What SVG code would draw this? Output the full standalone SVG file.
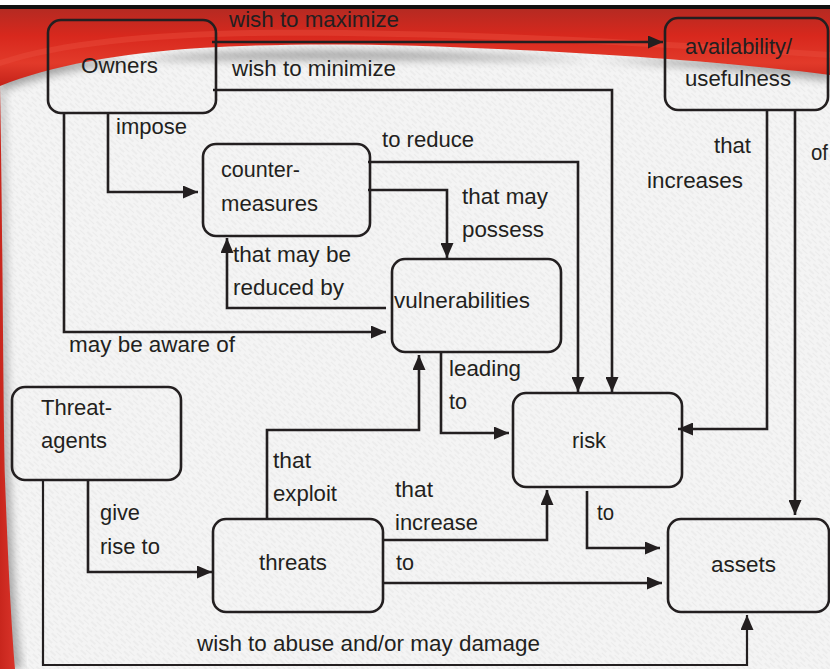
<svg xmlns="http://www.w3.org/2000/svg" width="830" height="669" viewBox="0 0 830 669">
<defs>
  <pattern id="tex" width="11" height="7" patternUnits="userSpaceOnUse" patternTransform="rotate(42)">
    <rect width="11" height="7" fill="#f4f4f4"/>
    <line x1="0" y1="2" x2="7" y2="2" stroke="#dadada" stroke-width="0.6"/>
    <line x1="4" y1="5.5" x2="11" y2="5.5" stroke="#e3e3e3" stroke-width="0.5"/>
  </pattern>
  <linearGradient id="red" x1="0" y1="0" x2="0" y2="1">
    <stop offset="0" stop-color="#b52a22"/>
    <stop offset="0.35" stop-color="#d8281d"/>
    <stop offset="0.7" stop-color="#e23a2a"/>
    <stop offset="1" stop-color="#c42219"/>
  </linearGradient>
  <linearGradient id="redL" x1="0" y1="0" x2="1" y2="0">
    <stop offset="0" stop-color="#c8261d"/>
    <stop offset="1" stop-color="#d9342a"/>
  </linearGradient>
  <filter id="blur" x="-20%" y="-50%" width="140%" height="200%">
    <feGaussianBlur stdDeviation="4"/>
  </filter>
  <marker id="arr" markerUnits="userSpaceOnUse" markerWidth="15" markerHeight="13" refX="15" refY="6.5" orient="auto">
    <path d="M0,0 L15,6.5 L0,13 Z" fill="#231f20"/>
  </marker>
  <style>
    .box { fill: none; stroke: #231f20; stroke-width: 2.6; }
    .ln { fill: none; stroke: #231f20; stroke-width: 2.6; }
    .thin { stroke-width: 2.2; }
    text { font-family: "Liberation Sans", Arial, sans-serif; font-size: 22px; fill: #231f20; }
  </style>
</defs>

<!-- background -->
<rect x="0" y="0" width="830" height="669" fill="url(#tex)"/>
<!-- shadows -->
<path d="M0,92 C50,72 120,59 200,54 C300,48 400,50 520,56 C650,62 760,72 830,81 L830,60 L0,60 Z" fill="#6f6f6f" opacity="0.6" filter="url(#blur)"/>
<path d="M4,90 C7,250 7,400 10,480 C13,560 16,620 22,669 L0,669 L0,90 Z" fill="#6a6a6a" opacity="0.55" filter="url(#blur)"/>
<!-- red band -->
<path d="M0,9 H830 V75 C760,66 650,56 520,50 C400,44 300,42 200,48 C120,53 50,66 0,86 Z" fill="url(#red)"/>
<path d="M0,60 C60,40 150,32 250,30 C400,28 600,36 830,52 L830,58 C600,42 400,34 250,36 C150,38 60,46 0,66 Z" fill="#e8493a" opacity="0.5"/>
<path d="M0,84 C3,250 3,400 5,480 C8,560 11,620 15,669 L0,669 Z" fill="url(#redL)"/>
<!-- top border -->
<rect x="0" y="0" width="830" height="5" fill="#ffffff"/>
<rect x="0" y="5" width="830" height="4" fill="#111111"/>

<!-- connectors -->
<g id="connectors">
  <path class="ln" d="M212,42 H663" marker-end="url(#arr)"/>
  <path class="ln" d="M213,90 H612 V392" marker-end="url(#arr)"/>
  <path class="ln" d="M368,162 H578 V392" marker-end="url(#arr)"/>
  <path class="ln" d="M368,190 H447 V258" marker-end="url(#arr)"/>
  <path class="ln" d="M386,308 H227 V238" marker-end="url(#arr)"/>
  <path class="ln" d="M64,113 V332 H386" marker-end="url(#arr)"/>
  <path class="ln" d="M108,113 V192 H198" marker-end="url(#arr)"/>
  <path class="ln" d="M767,111 V429 H678" marker-end="url(#arr)"/>
  <path class="ln" d="M795,111 V515" marker-end="url(#arr)"/>
  <path class="ln" d="M441,352 V433 H509" marker-end="url(#arr)"/>
  <path class="ln" d="M267,519 V430 H419 V355" marker-end="url(#arr)"/>
  <path class="ln" d="M383,540 H547 V490" marker-end="url(#arr)"/>
  <path class="ln" d="M383,583 H662" marker-end="url(#arr)"/>
  <path class="ln" d="M587,491 V548 H660" marker-end="url(#arr)"/>
  <path class="ln" d="M88,480 V572 H212" marker-end="url(#arr)"/>
  <path class="ln thin" d="M43,480 V665 H747 V615" marker-end="url(#arr)"/>

  <text x="229" y="27" textLength="170" lengthAdjust="spacingAndGlyphs">wish to maximize</text>
  <text x="232" y="76" textLength="164" lengthAdjust="spacingAndGlyphs">wish to minimize</text>
  <text x="116" y="134" textLength="71" lengthAdjust="spacingAndGlyphs">impose</text>
  <text x="382" y="147" textLength="92" lengthAdjust="spacingAndGlyphs">to reduce</text>
  <text x="462" y="204" textLength="86" lengthAdjust="spacingAndGlyphs">that may</text>
  <text x="462" y="237" textLength="82" lengthAdjust="spacingAndGlyphs">possess</text>
  <text x="714" y="153" textLength="37" lengthAdjust="spacingAndGlyphs">that</text>
  <text x="647" y="188" textLength="96" lengthAdjust="spacingAndGlyphs">increases</text>
  <text x="811" y="160" textLength="17" lengthAdjust="spacingAndGlyphs">of</text>
  <text x="233" y="262" textLength="118" lengthAdjust="spacingAndGlyphs">that may be</text>
  <text x="233" y="295" textLength="111" lengthAdjust="spacingAndGlyphs">reduced by</text>
  <text x="69" y="352" textLength="166" lengthAdjust="spacingAndGlyphs">may be aware of</text>
  <text x="449" y="376" textLength="72" lengthAdjust="spacingAndGlyphs">leading</text>
  <text x="449" y="409" textLength="18" lengthAdjust="spacingAndGlyphs">to</text>
  <text x="273" y="468" textLength="38" lengthAdjust="spacingAndGlyphs">that</text>
  <text x="273" y="501" textLength="64" lengthAdjust="spacingAndGlyphs">exploit</text>
  <text x="395" y="497" textLength="38" lengthAdjust="spacingAndGlyphs">that</text>
  <text x="395" y="530" textLength="83" lengthAdjust="spacingAndGlyphs">increase</text>
  <text x="100" y="520" textLength="40" lengthAdjust="spacingAndGlyphs">give</text>
  <text x="100" y="554" textLength="60" lengthAdjust="spacingAndGlyphs">rise to</text>
  <text x="597" y="520" textLength="17" lengthAdjust="spacingAndGlyphs">to</text>
  <text x="396" y="570" textLength="18" lengthAdjust="spacingAndGlyphs">to</text>
  <text x="197" y="651" textLength="343" lengthAdjust="spacingAndGlyphs">wish to abuse and/or may damage</text>
</g>

<!-- nodes -->
<g id="owners">
  <rect class="box" x="48" y="20" width="168" height="93" rx="13"/>
  <text x="81" y="73" textLength="77" lengthAdjust="spacingAndGlyphs">Owners</text>
</g>
<g id="availability">
  <rect class="box" x="665" y="18" width="163" height="92" rx="13"/>
  <text x="685" y="54" textLength="107" lengthAdjust="spacingAndGlyphs">availability/</text>
  <text x="685" y="86" textLength="106" lengthAdjust="spacingAndGlyphs">usefulness</text>
</g>
<g id="countermeasures">
  <rect class="box" x="203" y="144" width="167" height="92" rx="13"/>
  <text x="221" y="177" textLength="79" lengthAdjust="spacingAndGlyphs">counter-</text>
  <text x="221" y="211" textLength="97" lengthAdjust="spacingAndGlyphs">measures</text>
</g>
<g id="vulnerabilities">
  <rect class="box" x="392" y="259" width="169" height="93" rx="13"/>
  <text x="394" y="308" textLength="136" lengthAdjust="spacingAndGlyphs">vulnerabilities</text>
</g>
<g id="risk">
  <rect class="box" x="513" y="393" width="169" height="94" rx="13"/>
  <text x="572" y="448" textLength="34" lengthAdjust="spacingAndGlyphs">risk</text>
</g>
<g id="threat-agents">
  <rect class="box" x="12" y="387" width="169" height="93" rx="13"/>
  <text x="41" y="415" textLength="71" lengthAdjust="spacingAndGlyphs">Threat-</text>
  <text x="41" y="448" textLength="66" lengthAdjust="spacingAndGlyphs">agents</text>
</g>
<g id="threats">
  <rect class="box" x="213" y="519" width="170" height="93" rx="13"/>
  <text x="259" y="570" textLength="68" lengthAdjust="spacingAndGlyphs">threats</text>
</g>
<g id="assets">
  <rect class="box" x="668" y="519" width="161" height="93" rx="13"/>
  <text x="711" y="572" textLength="65" lengthAdjust="spacingAndGlyphs">assets</text>
</g>
</svg>
